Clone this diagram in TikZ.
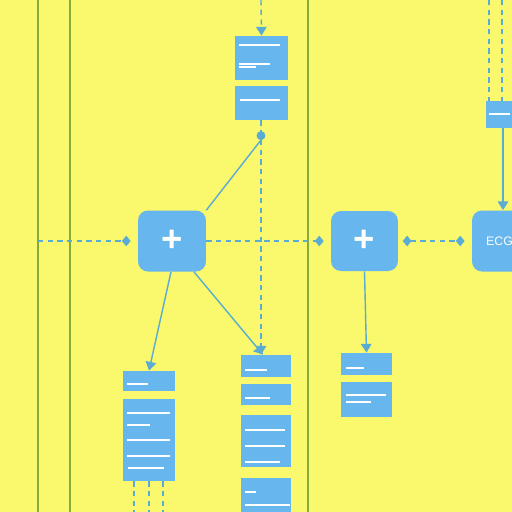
\documentclass[tikz,border=0pt]{standalone}
\usepackage{fontspec}
\setsansfont{Liberation Sans}
\usepackage{tikz}
\usetikzlibrary{arrows.meta}
\definecolor{bgYellow}{HTML}{FAF86C}
\definecolor{boxBlue}{HTML}{68B6EE}
\definecolor{linkBlue}{HTML}{5AACD2}
\definecolor{laneGreen}{HTML}{86AA3C}

\begin{document}
\begin{tikzpicture}[x=0.02cm, y=-0.02cm, >={Triangle[length=5pt,width=6pt]}]
            \tikzstyle{plusStyle} = [rounded corners=2mm, fill=boxBlue, inner sep=0pt,
                                     text=white, font=\sffamily\huge\bfseries]
            \tikzstyle{cardStyle} = [fill=boxBlue, inner sep=0pt, minimum width=10.4mm]
            \tikzstyle{laneEdge} = [draw=laneGreen, line width=0.9pt]
            \tikzstyle{linkEdge} = [draw, color=linkBlue, line width=0.8pt]
            \tikzstyle{dashEdge} = [draw, color=linkBlue, line width=0.8pt, dash pattern=on 3pt off 2.5pt]
            \tikzstyle{barStyle} = [draw=white, line width=0.8pt]
            \tikzstyle{dotTip} = [-{Diamond[length=5pt,width=6pt]}]
            \fill[bgYellow] (0,0) rectangle (512,512);
            \clip (0,0) rectangle (512,512);
            % lanes
            \foreach \x in {38,70,308}
                \path[laneEdge] (\x,0) -- (\x,512);
            % main nodes
            \node[plusStyle, minimum width=13.6mm, minimum height=12.2mm] (plusA) at (172,241) {+};
            \node[plusStyle, minimum width=13.4mm, minimum height=12mm] (plusB) at (364.5,241) {+};
            \node[plusStyle, minimum width=13.6mm, minimum height=12.2mm,
                  font=\sffamily\scriptsize] (ecg) at (506,241) {\hspace*{-2.6mm}ECG};
            % cards
            \node[cardStyle, minimum width=10.6mm, minimum height=8.8mm] (topA) at (261.5,58) {};
            \node[cardStyle, minimum width=10.6mm, minimum height=6.8mm] (topB) at (261.5,103) {};
            \node[cardStyle, minimum height=4mm] (leftA) at (149,381) {};
            \node[cardStyle, minimum height=16.4mm] (leftB) at (149,440) {};
            \node[cardStyle, minimum width=10mm, minimum height=4.4mm] (midA) at (266,366) {};
            \node[cardStyle, minimum width=10mm, minimum height=4.2mm] (midB) at (266,394.5) {};
            \node[cardStyle, minimum width=10mm, minimum height=10.4mm] (midC) at (266,441) {};
            \node[cardStyle, minimum width=10mm, minimum height=8.4mm] (midD) at (266,499) {};
            \node[cardStyle, minimum width=10.2mm, minimum height=4.4mm] (rightA) at (366.5,364) {};
            \node[cardStyle, minimum width=10.2mm, minimum height=7mm] (rightB) at (366.5,399.5) {};
            \node[cardStyle, minimum width=6.8mm, minimum height=5.4mm] (cornerA) at (503,114.5) {};
            % text bars
            \foreach \xa/\xb/\yy in {239/280/45, 239/270/64, 239/256/67, 240/280/100,
                                     127/148/384, 127/170/413, 127/150/425, 127/170/440,
                                     127/170/456, 128/164/468, 245/267/370, 245/270/398,
                                     245/285/430, 245/285/446, 245/280/462, 245/256/492,
                                     245/290/505, 346/364/368, 346/386/395, 346/371/402,
                                     489/510/114}
                \path[barStyle] (\xa,\yy) -- (\xb,\yy);
            % coordinates
            \coordinate (west) at (38,241);
            \coordinate (fork) at (261,140);
            \coordinate (topIn) at (261,0);
            \coordinate (cornerInA) at (489,0);
            \coordinate (cornerInB) at (502,0);
            \foreach \x in {134,149,163}
                \coordinate (leftOut\x) at (\x,512);
            % dashed links
            \path[dashEdge] (west) edge[dotTip, shorten >=4pt] (plusA.west);
            \path[dashEdge] (plusA.east) edge[dotTip, shorten >=4pt] (plusB.west);
            \path[dashEdge] (plusB.east) edge[{Diamond[length=5pt,width=6pt]}-{Diamond[length=5pt,width=6pt]},
                                              shorten <=2.5pt, shorten >=4pt] (ecg.west);
            \path[dashEdge] (topIn) edge[->] (topA.north);
            \path[dashEdge] (topB.south -| fork) edge[-{Circle[length=5pt]}] (fork);
            \path[dashEdge] (fork) edge[->] (midA.north -| fork);
            \foreach \to in {cornerInA,cornerInB}
                \path[dashEdge] (\to) edge (cornerA.north -| \to);
            \foreach \x in {134,149,163}
                \path[dashEdge] (leftB.south -| leftOut\x) edge (leftOut\x);
            % solid links
            \path[linkEdge] (fork) edge (plusA.north east);
            \path[linkEdge] ([xshift=-0.2mm]plusA.south) edge[->] (leftA.north);
            \path[linkEdge] ([xshift=4.4mm]plusA.south) edge[->] ([xshift=-0.6mm]midA.north);
            \path[linkEdge] (plusB.south) edge[->] (rightA.north);
            \path[linkEdge] (cornerA.south) edge[->] (cornerA.south |- ecg.north);
\end{tikzpicture}
\end{document}
